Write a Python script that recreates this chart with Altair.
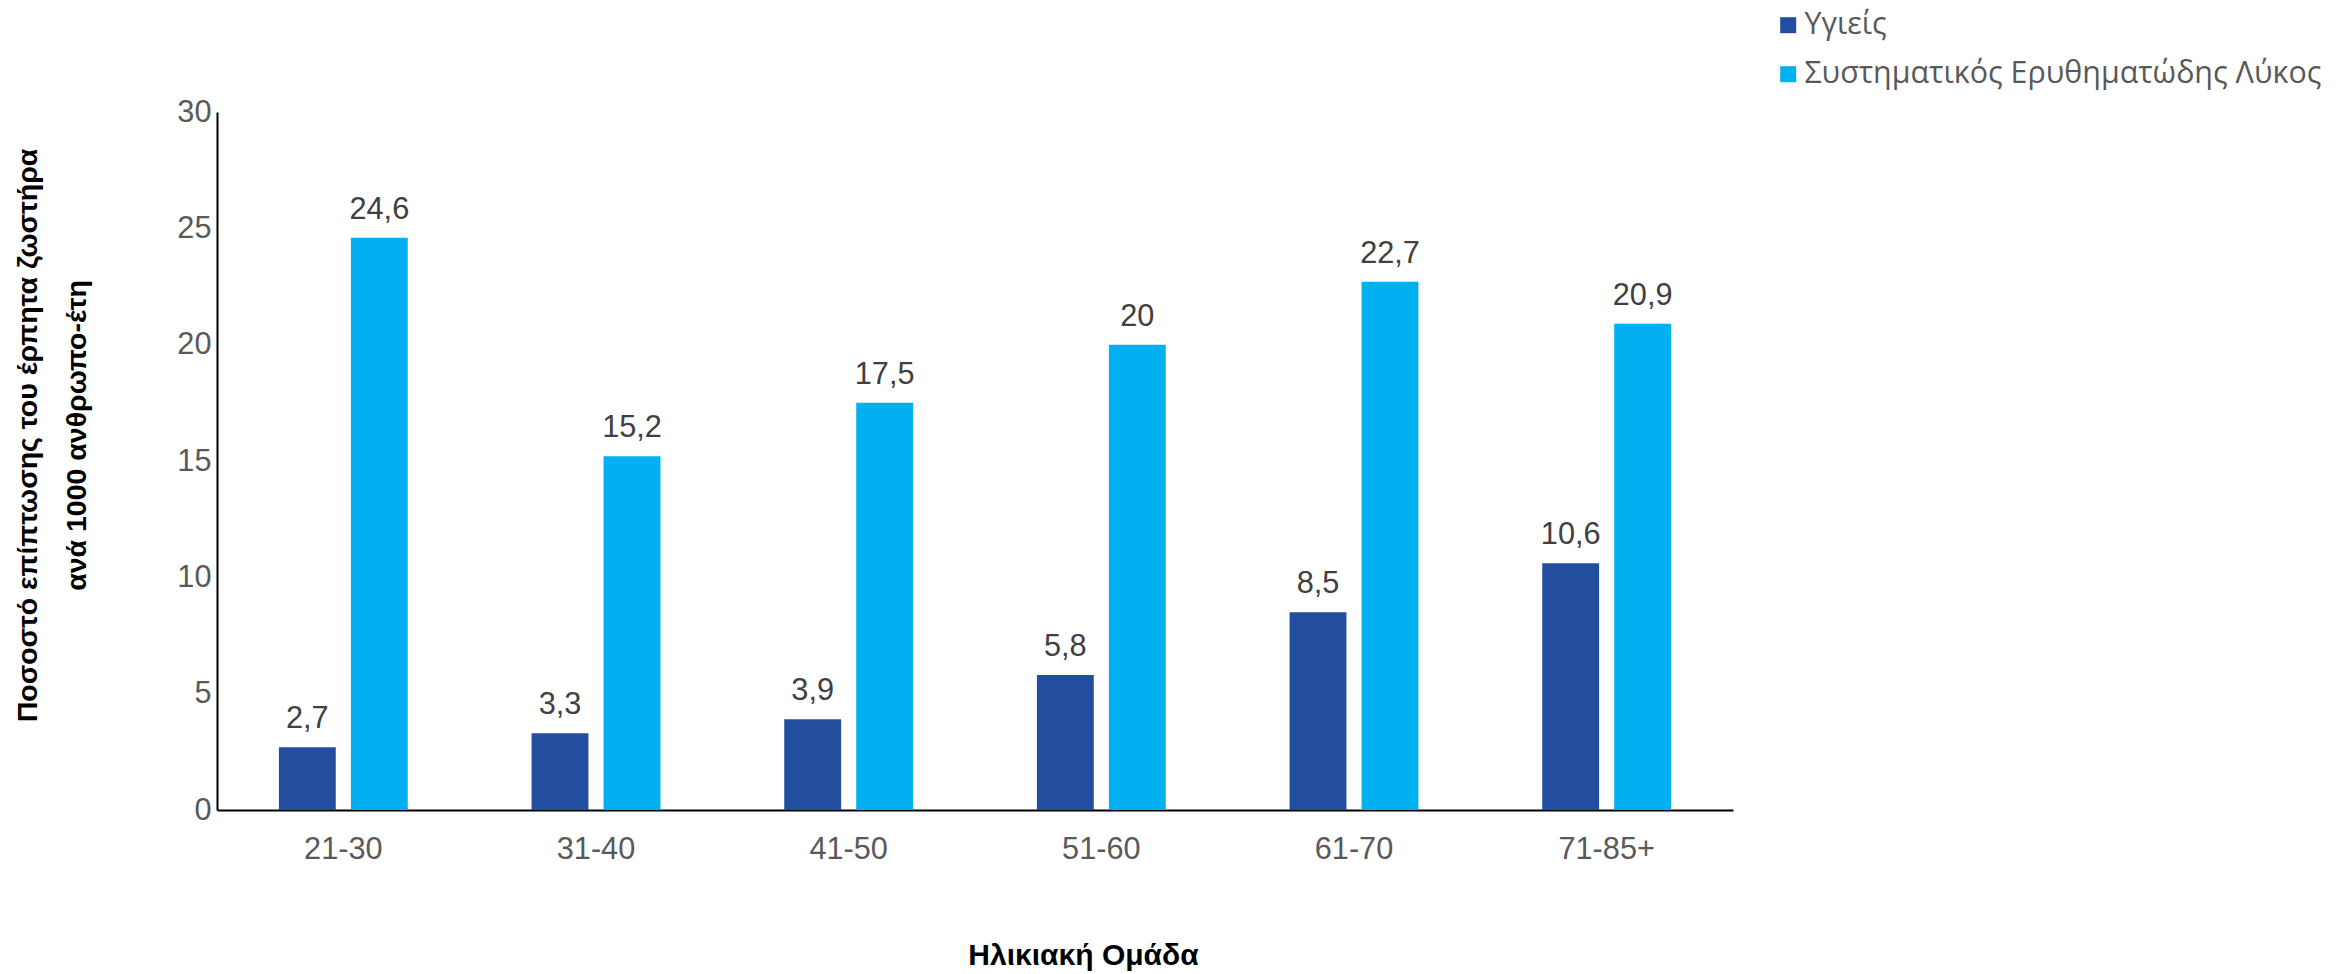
import altair as alt
import pandas as pd

# Age groups and incidence rates (per 1000 person-years)
age_groups = ["21-30", "31-40", "41-50", "51-60", "61-70", "71-85+"]
healthy = [2.7, 3.3, 3.9, 5.8, 8.5, 10.6]
sle = [24.6, 15.2, 17.5, 20.0, 22.7, 20.9]
series_names = ["Υγιείς", "Συστηματικός Ερυθηματώδης Λύκος"]
series_colors = ["#234EA0", "#00B0F0"]
y_ticks = [0, 5, 10, 15, 20, 25, 30]

rows = []
for i, age in enumerate(age_groups):
    for name, vals in zip(series_names, [healthy, sle]):
        v = vals[i]
        rows.append({
            "age": age,
            "series": name,
            "value": v,
            "label": f"{v:g}".replace(".", ","),
        })
df = pd.DataFrame(rows)

FONT = "Liberation Sans, Arial, sans-serif"
LEGEND_FONT = "Open Sans, sans-serif"
W, H = 1516, 698

x_enc = alt.X(
    "age:N",
    sort=age_groups,
    scale=alt.Scale(paddingInner=0.49, paddingOuter=0.245),
    axis=alt.Axis(
        title="Ηλικιακή Ομάδα",
        labelAngle=0,
        labelFontSize=30.7,
        labelColor="#595959",
        labelFont=FONT,
        labelPadding=24,
        ticks=False,
        domainColor="#000000",
        domainWidth=2,
        titleFont=FONT,
        titleFontSize=30,
        titleFontWeight="bold",
        titleColor="#000000",
        titleX=866,
        titleY=145,
        titleBaseline="middle",
        titleAlign="center",
    ),
)
xoff = alt.XOffset("series:N", sort=series_names,
                   scale=alt.Scale(paddingInner=0.21, paddingOuter=0))
y_enc = alt.Y(
    "value:Q",
    scale=alt.Scale(domain=[0, 30], nice=False),
    axis=alt.Axis(
        values=y_ticks,
        grid=False,
        ticks=False,
        labelFontSize=30.7,
        labelColor="#595959",
        labelFont=FONT,
        labelPadding=6,
        domainColor="#000000",
        domainWidth=2,
        title=["Ποσοστό επίπτωσης του έρπητα ζωστήρα", "ανά 1000 ανθρωπο-έτη"],
        titleFont=FONT,
        titleFontSize=28.5,
        titleFontWeight="bold",
        titleColor="#000000",
        titleAngle=270,
        titleAlign="center",
        titleBaseline="middle",
        titleLineHeight=49,
        titleX=-190,
        titleY=323,
    ),
)

color_enc = alt.Color(
    "series:N",
    sort=series_names,
    scale=alt.Scale(domain=series_names, range=series_colors),
    legend=alt.Legend(
        title=None,
        orient="none",
        legendX=1556,
        legendY=-102,
        symbolType="square",
        symbolSize=256,
        symbolStrokeWidth=0,
        symbolOpacity=1,
        labelFont=LEGEND_FONT,
        labelFontSize=30.4,
        labelColor="#595959",
        labelOffset=1,
        rowPadding=18,
        labelLimit=1000,
    ),
)

bars = alt.Chart(df).mark_bar().encode(
    x=x_enc, xOffset=xoff, y=y_enc, color=color_enc
)

labels = alt.Chart(df).mark_text(
    baseline="alphabetic", dy=-19, fontSize=30.7, font=FONT, color="#404040"
).encode(
    x=alt.X("age:N", sort=age_groups),
    xOffset=alt.XOffset("series:N", sort=series_names),
    y="value:Q",
    text="label:N",
)

chart = (
    alt.layer(bars, labels)
    .properties(
        width=W,
        height=H,
        background="white",
        autosize=alt.AutoSizeParams(type="none"),
        padding={"left": 217, "top": 112, "right": 2351 - 217 - W, "bottom": 974 - 112 - H},
    )
    .configure_view(stroke=None, strokeWidth=0)
)

chart.save("out.html", embed_options={"renderer": "svg", "actions": False})
